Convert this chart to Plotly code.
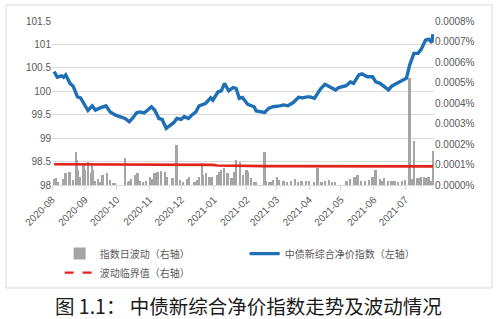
import plotly.graph_objects as go

# ---------------- data ----------------
idx_dates = [
    "2020-08-03", "2020-08-06", "2020-08-10", "2020-08-12", "2020-08-14", "2020-08-18", "2020-08-21",
    "2020-08-25", "2020-08-28", "2020-09-01", "2020-09-04", "2020-09-08", "2020-09-11", "2020-09-15",
    "2020-09-21", "2020-09-25", "2020-09-30", "2020-10-09", "2020-10-13", "2020-10-16", "2020-10-20",
    "2020-10-23", "2020-10-27", "2020-10-30", "2020-11-03", "2020-11-06", "2020-11-10", "2020-11-13",
    "2020-11-17", "2020-11-20", "2020-11-24", "2020-11-27", "2020-12-01", "2020-12-04", "2020-12-08",
    "2020-12-11", "2020-12-15", "2020-12-18", "2020-12-24", "2020-12-29", "2020-12-31", "2021-01-05",
    "2021-01-08", "2021-01-11", "2021-01-15", "2021-01-19", "2021-01-22", "2021-01-25", "2021-01-28",
    "2021-02-02", "2021-02-08", "2021-02-10", "2021-02-18", "2021-02-22", "2021-02-26", "2021-03-04",
    "2021-03-08", "2021-03-12", "2021-03-17", "2021-03-22", "2021-03-26", "2021-03-30", "2021-04-02",
    "2021-04-06", "2021-04-12", "2021-04-16", "2021-04-20", "2021-04-26", "2021-04-29", "2021-05-06",
    "2021-05-10", "2021-05-13", "2021-05-18", "2021-05-21", "2021-05-26", "2021-05-31", "2021-06-03",
    "2021-06-07", "2021-06-15", "2021-06-18", "2021-06-23", "2021-06-29", "2021-07-02", "2021-07-05",
    "2021-07-09", "2021-07-13", "2021-07-16", "2021-07-20", "2021-07-23", "2021-07-26", "2021-07-27",
]
idx_values = [
    100.42, 100.30, 100.33, 100.30, 100.35, 100.17, 100.11,
    99.88, 99.86, 99.69, 99.59, 99.69, 99.60, 99.64,
    99.69, 99.56, 99.49, 99.42, 99.35, 99.42, 99.54,
    99.56, 99.54, 99.59, 99.67, 99.60, 99.42, 99.40,
    99.21, 99.26, 99.33, 99.42, 99.40, 99.46, 99.42,
    99.49, 99.56, 99.69, 99.74, 99.86, 99.81, 99.99,
    100.01, 100.17, 100.01, 100.08, 100.06, 99.85, 99.87,
    99.72, 99.67, 99.58, 99.55, 99.64, 99.67, 99.69,
    99.71, 99.69, 99.76, 99.87, 99.86, 99.88, 99.88,
    99.85, 100.06, 100.15, 100.10, 100.03, 100.08, 100.12,
    100.20, 100.17, 100.35, 100.37, 100.31, 100.31, 100.20,
    100.17, 100.03, 100.11, 100.17, 100.24, 100.28, 100.56,
    100.81, 100.81, 100.90, 101.09, 101.11, 101.04, 101.22,
]

vol_dates = [
    "2020-08-03", "2020-08-05", "2020-08-07", "2020-08-12", "2020-08-14", "2020-08-17", "2020-08-18",
    "2020-08-21", "2020-08-24", "2020-08-25", "2020-08-26", "2020-08-28", "2020-08-31", "2020-09-01",
    "2020-09-04", "2020-09-07", "2020-09-08", "2020-09-09", "2020-09-11", "2020-09-14", "2020-09-15",
    "2020-09-18", "2020-09-22", "2020-09-25", "2020-09-28", "2020-09-30", "2020-10-09", "2020-10-12",
    "2020-10-13", "2020-10-15", "2020-10-19", "2020-10-21", "2020-10-23", "2020-10-26", "2020-10-29",
    "2020-11-02", "2020-11-04", "2020-11-06", "2020-11-09", "2020-11-12", "2020-11-16", "2020-11-18",
    "2020-11-23", "2020-11-27", "2020-11-30", "2020-12-03", "2020-12-07", "2020-12-09", "2020-12-14",
    "2020-12-16", "2020-12-18", "2020-12-21", "2020-12-22", "2020-12-25", "2020-12-28", "2020-12-30",
    "2021-01-04", "2021-01-06", "2021-01-08", "2021-01-11", "2021-01-14", "2021-01-18", "2021-01-20",
    "2021-01-22", "2021-01-26", "2021-01-29", "2021-02-01", "2021-02-02", "2021-02-05", "2021-02-08",
    "2021-02-10", "2021-02-18", "2021-02-19", "2021-02-22", "2021-02-24", "2021-02-26", "2021-03-02",
    "2021-03-04", "2021-03-08", "2021-03-11", "2021-03-15", "2021-03-19", "2021-03-22", "2021-03-25",
    "2021-03-29", "2021-04-01", "2021-04-06", "2021-04-09", "2021-04-13", "2021-04-16", "2021-04-20",
    "2021-04-23", "2021-04-26", "2021-05-06", "2021-05-07", "2021-05-10", "2021-05-14", "2021-05-17",
    "2021-05-20", "2021-05-24", "2021-05-28", "2021-05-31", "2021-06-03", "2021-06-07", "2021-06-09",
    "2021-06-11", "2021-06-15", "2021-06-18", "2021-06-21", "2021-06-24", "2021-06-28", "2021-07-01",
    "2021-07-05", "2021-07-07", "2021-07-09", "2021-07-12", "2021-07-14", "2021-07-16", "2021-07-19",
    "2021-07-21", "2021-07-23", "2021-07-26", "2021-07-27",
]
vol_values = [
    2.8e-5, 3.3e-5, 1.6e-5, 2.8e-5, 5.7e-5, 6.5e-5, 6.5e-5,
    2.4e-5, 1.59e-4, 1.22e-4, 7.3e-5, 4.1e-5, 9.8e-5, 7.3e-5,
    1.14e-4, 5.7e-5, 1.06e-4, 7.3e-5, 2.1e-5, 2.8e-5, 1.6e-5,
    4.9e-5, 5.7e-5, 2.4e-5, 1.0e-5, 0.6e-5, 1.30e-4, 1.6e-5,
    2.1e-5, 2.8e-5, 4.9e-5, 5.7e-5, 2.0e-5, 1.6e-5, 2.1e-5,
    4.1e-5, 2.8e-5, 5.7e-5, 6.5e-5, 7.0e-5, 6.5e-5, 4.1e-5,
    3.3e-5, 1.95e-4, 2.4e-5, 1.6e-5, 2.8e-5, 3.7e-5, 1.6e-5,
    2.4e-5, 4.1e-5, 1.06e-4, 4.9e-5, 5.7e-5, 4.1e-5, 4.1e-5,
    4.9e-5, 6.5e-5, 7.3e-5, 8.1e-5, 5.7e-5, 3.3e-5, 6.5e-5,
    1.22e-4, 1.14e-4, 4.9e-5, 7.3e-5, 6.5e-5, 3.3e-5, 1.6e-5,
    1.6e-5, 1.63e-4, 2.1e-5, 1.6e-5, 1.6e-5, 2.4e-5, 4.1e-5,
    2.4e-5, 2.1e-5, 1.6e-5, 2.0e-5, 2.8e-5, 1.6e-5, 2.1e-5,
    1.8e-5, 2.1e-5, 1.6e-5, 8.5e-5, 1.6e-5, 2.1e-5, 2.4e-5,
    1.6e-5, 1.6e-5, 2.0e-5, 2.1e-5, 2.8e-5, 3.7e-5, 4.9e-5,
    2.1e-5, 2.0e-5, 2.4e-5, 4.1e-5, 7.3e-5, 2.8e-5, 2.1e-5,
    3.3e-5, 2.0e-5, 2.0e-5, 2.1e-5, 1.6e-5, 2.1e-5, 2.4e-5,
    5.2e-4, 2.8e-5, 2.16e-4, 3.3e-5, 3.3e-5, 4.1e-5, 3.7e-5,
    3.6e-5, 4.1e-5, 2.0e-5, 1.67e-4,
]

thr_dates = ["2020-08-03", "2020-10-27", "2020-10-28", "2020-12-31", "2021-01-04",
             "2021-02-10", "2021-02-18", "2021-07-27"]
thr_values = [1.01e-4, 1.01e-4, 0.98e-4, 0.98e-4, 0.95e-4, 0.95e-4, 0.92e-4, 0.91e-4]

month_ticks = ["2020-08-01", "2020-09-01", "2020-10-01", "2020-11-01", "2020-12-01", "2021-01-01",
               "2021-02-01", "2021-03-01", "2021-04-01", "2021-05-01", "2021-06-01", "2021-07-01"]
month_labels = ["2020-08", "2020-09", "2020-10", "2020-11", "2020-12", "2021-01",
                "2021-02", "2021-03", "2021-04", "2021-05", "2021-06", "2021-07"]

left_ticks = [98, 98.5, 99, 99.5, 100, 100.5, 101, 101.5]
left_labels = ["98", "98.5", "99", "99.5", "100", "100.5", "101", "101.5"]

# ---------------- figure ----------------
FONT = "Liberation Sans, Noto Sans CJK SC, sans-serif"
GREY_TXT = "#595959"

fig = go.Figure()

fig.add_trace(go.Bar(
    x=vol_dates, y=vol_values, name="指数日波动（右轴）",
    marker=dict(color="#a5a5a5", line=dict(width=0)),
    width=1.7 * 86400000, yaxis="y", legendrank=1,
))
fig.add_trace(go.Scatter(
    x=thr_dates, y=thr_values, mode="lines", name="波动临界值（右轴）",
    line=dict(color="#e2231a", width=2.6), yaxis="y", showlegend=False,
))
fig.add_trace(go.Scatter(
    x=[None], y=[None], mode="lines", name="波动临界值（右轴）",
    line=dict(color="#e2231a", width=2.2, dash="dash"), yaxis="y", legendrank=3,
))
fig.add_trace(go.Scatter(
    x=idx_dates, y=idx_values, mode="lines", name="中债新综合净价指数（左轴）",
    line=dict(color="#1f6fb6", width=3.4), yaxis="y2", legendrank=2,
))

fig.update_layout(
    width=498, height=319,
    margin=dict(l=52, r=64, t=21, b=134, autoexpand=False),
    paper_bgcolor="white", plot_bgcolor="white",
    font=dict(family=FONT, size=10, color=GREY_TXT),
    bargap=0,
    showlegend=True,
    legend=dict(
        orientation="h", x=0.02, xanchor="left", y=-0.33, yanchor="top",
        entrywidth=140, entrywidthmode="pixels",
        font=dict(family="Noto Sans CJK SC, sans-serif", size=10, color=GREY_TXT),
        tracegroupgap=0, itemwidth=30, bgcolor="rgba(0,0,0,0)",
    ),
    xaxis=dict(
        type="date", range=["2020-08-01", "2021-07-28"],
        tickvals=month_ticks, ticktext=month_labels, tickangle=-45,
        ticks="outside", ticklen=4, tickcolor="#d9d9d9",
        showgrid=False, showline=True, linecolor="#d9d9d9", linewidth=1,
        tickfont=dict(size=10, color=GREY_TXT), zeroline=False,
    ),
    yaxis=dict(
        side="right", range=[0, 0.0008], dtick=0.0001, tick0=0,
        tickformat=".4f", ticksuffix="%", showgrid=False, zeroline=False,
        tickfont=dict(size=10, color=GREY_TXT), ticks="",
    ),
    yaxis2=dict(
        overlaying="y", side="left", range=[98, 101.5],
        tickvals=left_ticks, ticktext=left_labels,
        showgrid=True, gridcolor="#d9d9d9", gridwidth=1, zeroline=False,
        tickfont=dict(size=10, color=GREY_TXT), ticks="",
    ),
    shapes=[dict(
        type="rect", xref="paper", yref="paper",
        x0=-0.1204, x1=1.152, y0=-0.628, y1=1.0976,
        line=dict(color="#d9d9d9", width=1), fillcolor="rgba(0,0,0,0)", layer="below",
    )],
    annotations=[dict(
        text="图 1.1： 中债新综合净价指数走势及波动情况",
        xref="paper", yref="paper", x=0.515, y=-0.732, xanchor="center", yanchor="middle",
        showarrow=False,
        font=dict(family="Noto Sans CJK SC, sans-serif", size=19.5, color="#1a1a1a"),
    )],
)

fig.write_html("out.html")
